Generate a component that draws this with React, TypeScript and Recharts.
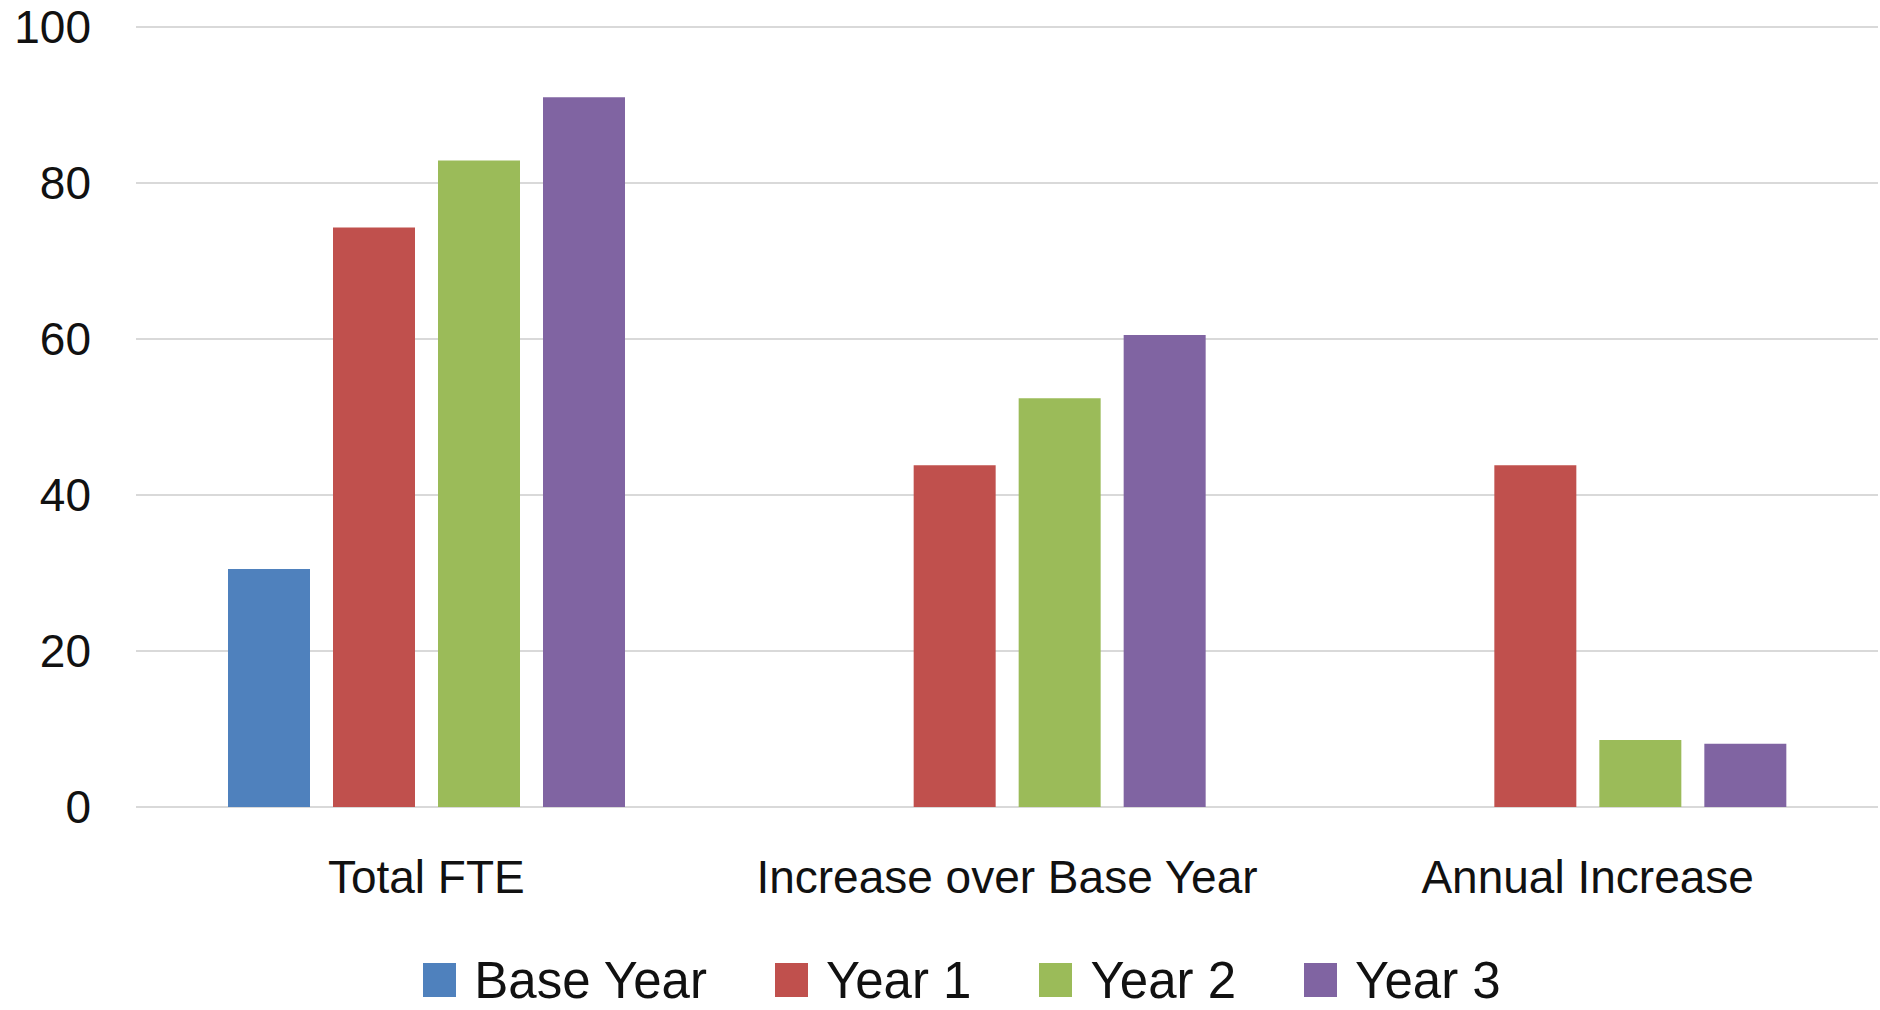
import React from 'react';
import { BarChart, Bar, XAxis, YAxis, CartesianGrid, Legend } from 'recharts';

const categories = ['Total FTE', 'Increase over Base Year', 'Annual Increase'];
const baseYear = [30.5, null, null];
const year1 = [74.3, 43.8, 43.8];
const year2 = [82.9, 52.4, 8.6];
const year3 = [91.0, 60.5, 8.1];
const yTicks = [0, 20, 40, 60, 80, 100];

const seriesNames = ['Base Year', 'Year 1', 'Year 2', 'Year 3'];
const seriesColors = ['#4F81BD', '#C0504D', '#9BBB59', '#8064A2'];

const data = categories.map((name, i) => ({
  name,
  base: baseYear[i],
  y1: year1[i],
  y2: year2[i],
  y3: year3[i],
}));

const FONT = '"Liberation Sans", Arial, sans-serif';

const renderLegend = (props: any) => {
  const { payload } = props;
  return (
    <div
      style={{
        display: 'flex',
        justifyContent: 'center',
        alignItems: 'center',
        paddingLeft: 44,
        height: 50,
        fontFamily: FONT,
        fontSize: 51,
        color: '#111',
      }}
    >
      {payload.map((entry: any, idx: number) => (
        <div
          key={entry.value}
          style={{ display: 'flex', alignItems: 'center', marginLeft: idx === 0 ? 0 : 68 }}
        >
          <span style={{ width: 33, height: 34, background: entry.color, display: 'inline-block', marginRight: 18 }} />
          <span style={{ lineHeight: 1 }}>{entry.value}</span>
        </div>
      ))}
    </div>
  );
};

export default function App() {
  return (
    <div style={{ position: 'absolute', left: 0, top: 0, width: 1880, height: 1010, background: '#fff' }}>
      <BarChart
        width={1880}
        height={1010}
        data={data}
        margin={{ top: 27, right: 2, left: 0, bottom: 143 }}
        barSize={82}
        barGap={23}
      >
        <CartesianGrid vertical={false} stroke="#d9d9d9" strokeWidth={2} />
        <XAxis
          dataKey="name"
          height={60}
          axisLine={false}
          tickLine={false}
          tickSize={0}
          tickMargin={53}
          interval={0}
          tick={{ fill: '#111', fontSize: 46, fontFamily: FONT }}
        />
        <YAxis
          width={136}
          domain={[0, 100]}
          ticks={yTicks}
          axisLine={false}
          tickLine={false}
          tickSize={0}
          tickMargin={45}
          tick={{ fill: '#111', fontSize: 46, fontFamily: FONT }}
        />
        <Legend
          verticalAlign="middle"
          layout="horizontal"
          content={renderLegend}
          wrapperStyle={{ top: 955, left: 0, width: 1880 }}
        />
        <Bar dataKey="base" name={seriesNames[0]} fill={seriesColors[0]} isAnimationActive={false} />
        <Bar dataKey="y1" name={seriesNames[1]} fill={seriesColors[1]} isAnimationActive={false} />
        <Bar dataKey="y2" name={seriesNames[2]} fill={seriesColors[2]} isAnimationActive={false} />
        <Bar dataKey="y3" name={seriesNames[3]} fill={seriesColors[3]} isAnimationActive={false} />
      </BarChart>
    </div>
  );
}
